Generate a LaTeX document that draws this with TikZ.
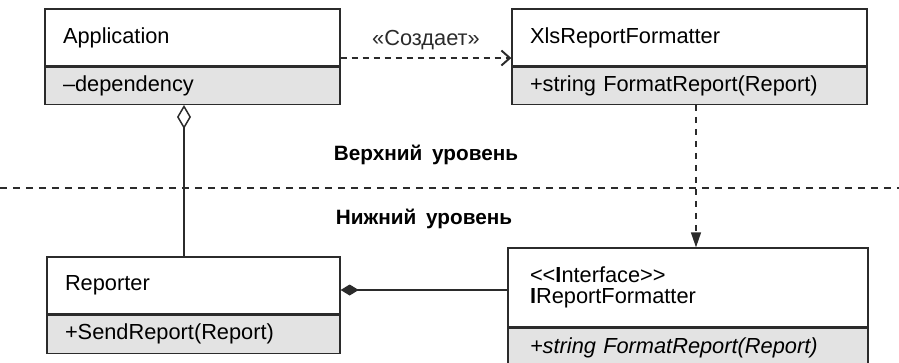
\documentclass[tikz,border=0pt]{standalone}
\usepackage{fontspec}
\setmainfont{Liberation Sans}
\usetikzlibrary{calc,positioning,arrows.meta}
\definecolor{umlLine}{HTML}{2B2B2B}
\definecolor{umlGray}{HTML}{E3E3E3}
\newcommand\umlfont{\fontsize{12.4}{11.8}\selectfont}
\newcommand\lvlfont{\fontsize{11.8}{12}\selectfont\bfseries}

\begin{document}
\begin{tikzpicture}[
  cls/.style={draw=umlLine,fill=white,line width=0.75pt,inner xsep=0.36cm,inner ysep=0pt,
              font=\umlfont,text=black,align=left},
  mth/.style={cls,fill=umlGray},
  dep/.style={-{Straight Barb[length=0.17cm,width=0.3cm,line width=1.1pt]},umlLine,
              line width=0.75pt,dash pattern=on 0.13cm off 0.09cm},
  real/.style={-{Triangle[length=0.3cm,width=0.2cm]},umlLine,line width=0.75pt,
               dash pattern=on 0.13cm off 0.11cm},
  agg/.style={{Diamond[open,length=0.48cm,width=0.28cm,fill=white]}-,umlLine,line width=0.85pt},
  comp/.style={{Diamond[length=0.36cm,width=0.22cm]}-,umlLine,line width=0.85pt},
  sep/.style={umlLine,line width=0.75pt,dash pattern=on 0.14cm off 0.12cm},
  lvl/.style={font=\lvlfont,text=black,inner sep=1pt}]
  \useasboundingbox (0,0) rectangle (17.98,-7.24);

  % upper level
  \node[cls,text width=5.18cm,minimum height=1.14cm] (app) at (3.85,-0.75) {Application};
  \node[mth,text width=5.18cm,minimum height=0.74cm,anchor=north] (appm) at (app.south) {--dependency};
  \node[cls,text width=6.38cm,minimum height=1.14cm] (xls) at (13.79,-0.75) {XlsReportFormatter};
  \node[mth,text width=6.38cm,minimum height=0.74cm,anchor=north] (xlsm) at (xls.south)
       {+string FormatReport(Report)};
  \draw[dep] ([yshift=-0.41cm]app.east) -- ([yshift=-0.41cm]xls.west)
        node[midway,above=1pt,font=\umlfont] {«Создает»};

  % level separator
  \coordinate (sepl) at (0,-3.76);
  \coordinate (sepr) at (17.98,-3.76);
  \draw[sep] (sepl) -- (sepr);
  \node[lvl] (upper) at (8.52,-3.1)  {Верхний\hspace{0.08cm} уровень};
  \node[lvl] (lower) at (8.48,-4.38) {Нижний\hspace{0.08cm} уровень};

  % lower level
  \node[cls,text width=5.14cm,minimum height=1.14cm] (rep) at (3.87,-5.71) {Reporter};
  \node[mth,text width=5.14cm,minimum height=0.76cm,anchor=north] (repm) at (rep.south)
       {+SendReport(Report)};
  \node[cls,inner xsep=0.44cm,text width=6.32cm,minimum height=1.58cm] (ifc) at (13.76,-5.75)
       {<{}<\textbf{I}nterface>{}>\\\textbf{I}ReportFormatter};
  \node[mth,inner xsep=0.44cm,text width=6.32cm,minimum height=0.8cm,anchor=north] (ifcm) at (ifc.south)
       {\itshape +string FormatReport(Report)};

  \draw[agg] ([xshift=-0.17cm]appm.south) -- ([xshift=-0.17cm]appm.south |- rep.north);
  \draw[comp] ([yshift=-0.09cm]rep.east) -- ([yshift=-0.09cm]rep.east -| ifc.west);
  \draw[real] ([xshift=0.13cm]xlsm.south) -- ([xshift=0.13cm]xlsm.south |- ifc.north);
\end{tikzpicture}
\end{document}
